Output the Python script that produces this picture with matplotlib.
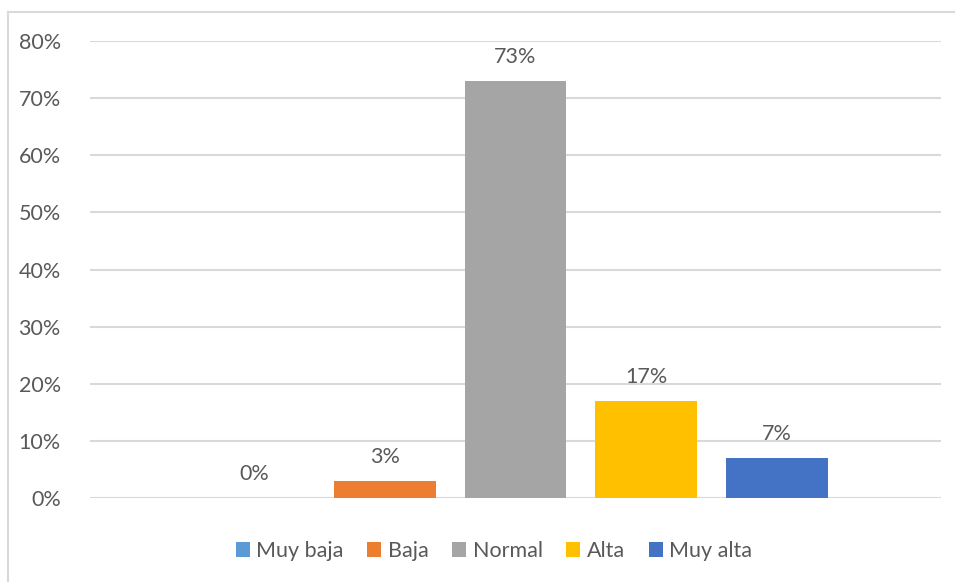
import numpy as np
import matplotlib.pyplot as plt
from matplotlib.lines import Line2D
from matplotlib.ticker import FuncFormatter

categories = ['Muy baja', 'Baja', 'Normal', 'Alta', 'Muy alta']
values = [0, 3, 73, 17, 7]
colors = ['#5B9BD5', '#ED7D31', '#A5A5A5', '#FFC000', '#4472C4']
yticks = [0, 10, 20, 30, 40, 50, 60, 70, 80]

plt.rcParams['font.family'] = ['Lato', 'DejaVu Sans']
txt = '#595959'
fs = 15.5

fig = plt.figure(figsize=(9.55, 5.82), dpi=100)
ax = fig.add_axes([90/955, 84/582, 851/955, 457/582])

x = np.arange(len(categories))
for i in range(len(categories)):
    ax.bar(x[i], values[i], width=0.78, color=colors[i], label=categories[i], zorder=3)
    ax.text(x[i], values[i] + 2.4, f'{values[i]}%', ha='center', va='bottom',
            fontsize=fs, color=txt)

ax.set_xlim(-1.255, 5.255)
ax.set_ylim(0, 80)
ax.set_yticks(yticks)
ax.yaxis.set_major_formatter(FuncFormatter(lambda v, p: f'{v:.0f}%'))
ax.set_xticks([])
ax.grid(axis='y', color='#D9D9D9', linewidth=1.5, zorder=0)
ax.tick_params(axis='y', length=0, pad=21, labelsize=fs, labelcolor=txt)
for s in ax.spines.values():
    s.set_visible(False)

ax.legend(loc='upper center', bbox_to_anchor=(404/851, -0.052), ncol=5, frameon=False,
          fontsize=fs, labelcolor=txt, handlelength=0.65, handleheight=0.65,
          handletextpad=0.3, columnspacing=1.1)

# outer chart frame (top and left edges only)
fig.add_artist(Line2D([8/955, 1], [1 - 12/582, 1 - 12/582], color='#D9D9D9', linewidth=1.5))
fig.add_artist(Line2D([8/955, 8/955], [0, 1 - 12/582], color='#D9D9D9', linewidth=1.5))

fig.savefig('out.png', dpi=100)
